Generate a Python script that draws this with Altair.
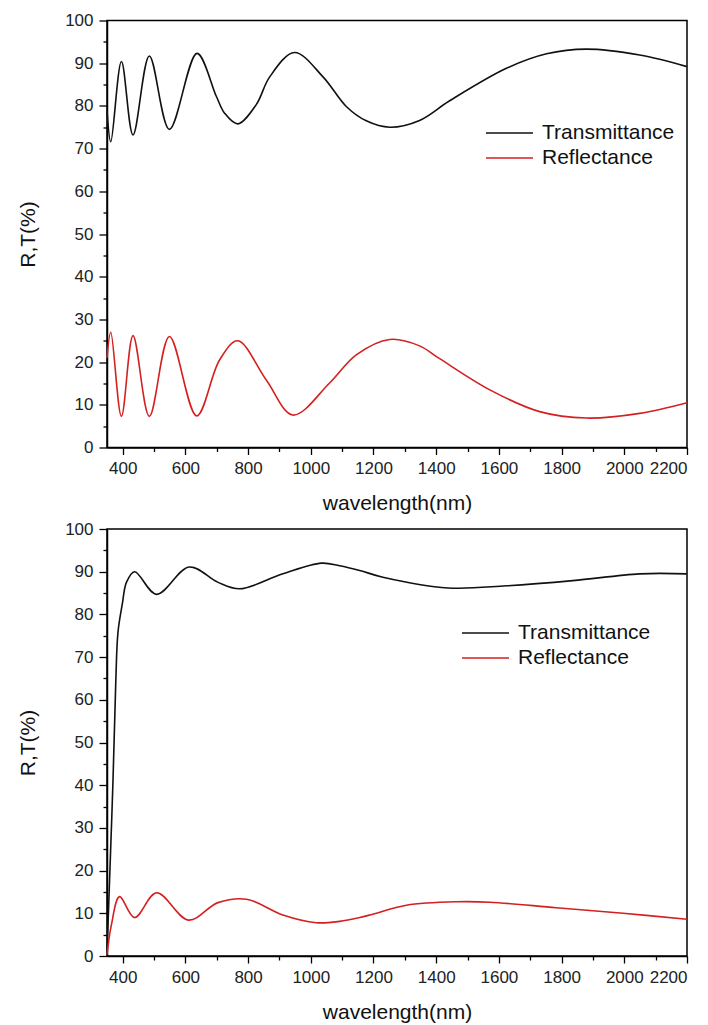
import altair as alt
import pandas as pd

# ---- data ----
top_T_wl = [350, 362, 396, 433, 485, 549, 637, 699, 725, 767, 826, 869, 948, 1039, 1114, 1177, 1252, 1347, 1443, 1624, 1752, 1879, 2049, 2200]
top_T_val = [79.0, 71.6, 90.4, 73.2, 91.7, 74.5, 92.3, 82.2, 78.3, 75.8, 80.3, 86.8, 92.5, 86.8, 79.8, 76.5, 75.0, 76.6, 81.2, 88.8, 92.2, 93.3, 91.9, 89.2]

top_R_wl = [350, 362, 396, 433, 485, 549, 636, 709, 767, 858, 943, 1060, 1145, 1252, 1347, 1411, 1571, 1730, 1879, 2049, 2200]
top_R_val = [21.0, 27.0, 7.3, 26.2, 7.3, 26.0, 7.4, 20.5, 25.0, 15.8, 7.6, 15.1, 21.7, 25.3, 23.8, 20.8, 13.5, 8.4, 6.9, 8.0, 10.5]

bot_T_wl = [350, 358, 369, 378, 385, 399, 412, 438, 508, 612, 704, 773, 911, 1034, 1092, 1156, 1230, 1438, 1624, 1836, 2049, 2200]
bot_T_val = [0.6, 17.4, 40.8, 64.2, 75.8, 82.5, 87.5, 90.0, 84.7, 91.1, 87.5, 86.0, 89.5, 92.0, 91.4, 90.3, 88.7, 86.2, 86.7, 87.9, 89.5, 89.5]

bot_R_wl = [350, 364, 390, 438, 508, 610, 704, 795, 911, 1017, 1092, 1156, 1198, 1305, 1464, 1571, 1783, 1996, 2200]
bot_R_val = [0.3, 7.3, 13.9, 9.0, 14.8, 8.4, 12.5, 13.3, 9.6, 7.8, 8.1, 9.0, 9.8, 11.9, 12.7, 12.6, 11.3, 10.0, 8.6]

series_names = ["Transmittance", "Reflectance"]
series_colors = ["#111111", "#d42020"]
x_ticks = list(range(400, 2201, 100))
y_ticks = list(range(0, 101, 5))

FONT = "Liberation Sans"


def frame(t_wl, t_val, r_wl, r_val):
    rows = []
    for w, v in zip(t_wl, t_val):
        rows.append({"wl": w, "val": v, "series": "Transmittance", "o": 0})
    for w, v in zip(r_wl, r_val):
        rows.append({"wl": w, "val": v, "series": "Reflectance", "o": 1})
    return pd.DataFrame(rows)


def panel(df, lx, ly):
    return alt.Chart(df).mark_line(interpolate="catmull-rom", strokeWidth=1.6).encode(
        x=alt.X("wl:Q",
                scale=alt.Scale(domain=[350, 2200], nice=False, zero=False),
                axis=alt.Axis(title="wavelength(nm)", values=x_ticks,
                              labelExpr="datum.value % 200 === 0 ? datum.label : ''",
                              tickSize={"condition": {"test": "datum.value % 200 === 0", "value": 7}, "value": 4},
                              format="d", labelPadding=6, titlePadding=16)),
        y=alt.Y("val:Q",
                scale=alt.Scale(domain=[0, 100], nice=False),
                axis=alt.Axis(title="R,T(%)", values=y_ticks,
                              labelExpr="datum.value % 10 === 0 ? datum.label : ''",
                              tickSize={"condition": {"test": "datum.value % 10 === 0", "value": 8}, "value": 4},
                              labelPadding=6, titlePadding=26)),
        color=alt.Color("series:N",
                        scale=alt.Scale(domain=series_names, range=series_colors),
                        legend=alt.Legend(title=None, orient="none", legendX=lx, legendY=ly,
                                          symbolType="stroke", symbolSize=2209, symbolStrokeWidth=1.6,
                                          clipHeight=24, rowPadding=1, labelOffset=8,
                                          labelFontSize=21, labelFont=FONT, labelColor="#111")),
        detail="o:O",
    ).properties(width=580, height=427)


top = panel(frame(top_T_wl, top_T_val, top_R_wl, top_R_val), 378, 100.5)
bot = panel(frame(bot_T_wl, bot_T_val, bot_R_wl, bot_R_val), 354, 92)

chart = alt.vconcat(top, bot, spacing=4.5).resolve_scale(color="independent").resolve_legend(color="independent").properties(
    padding={"left": 16, "top": 10.5, "right": 5, "bottom": 5},
    background="white",
).configure_view(
    stroke="black", strokeWidth=1.5
).configure_axis(
    grid=False, domainColor="black", domainWidth=1.5, tickColor="black", tickWidth=1.3,
    labelFont=FONT, labelFontSize=17, labelColor="#222",
    titleFont=FONT, titleFontSize=21, titleFontWeight="normal", titleColor="#111",
)

chart.save("out.html", embed_options={"renderer": "svg", "actions": False})
